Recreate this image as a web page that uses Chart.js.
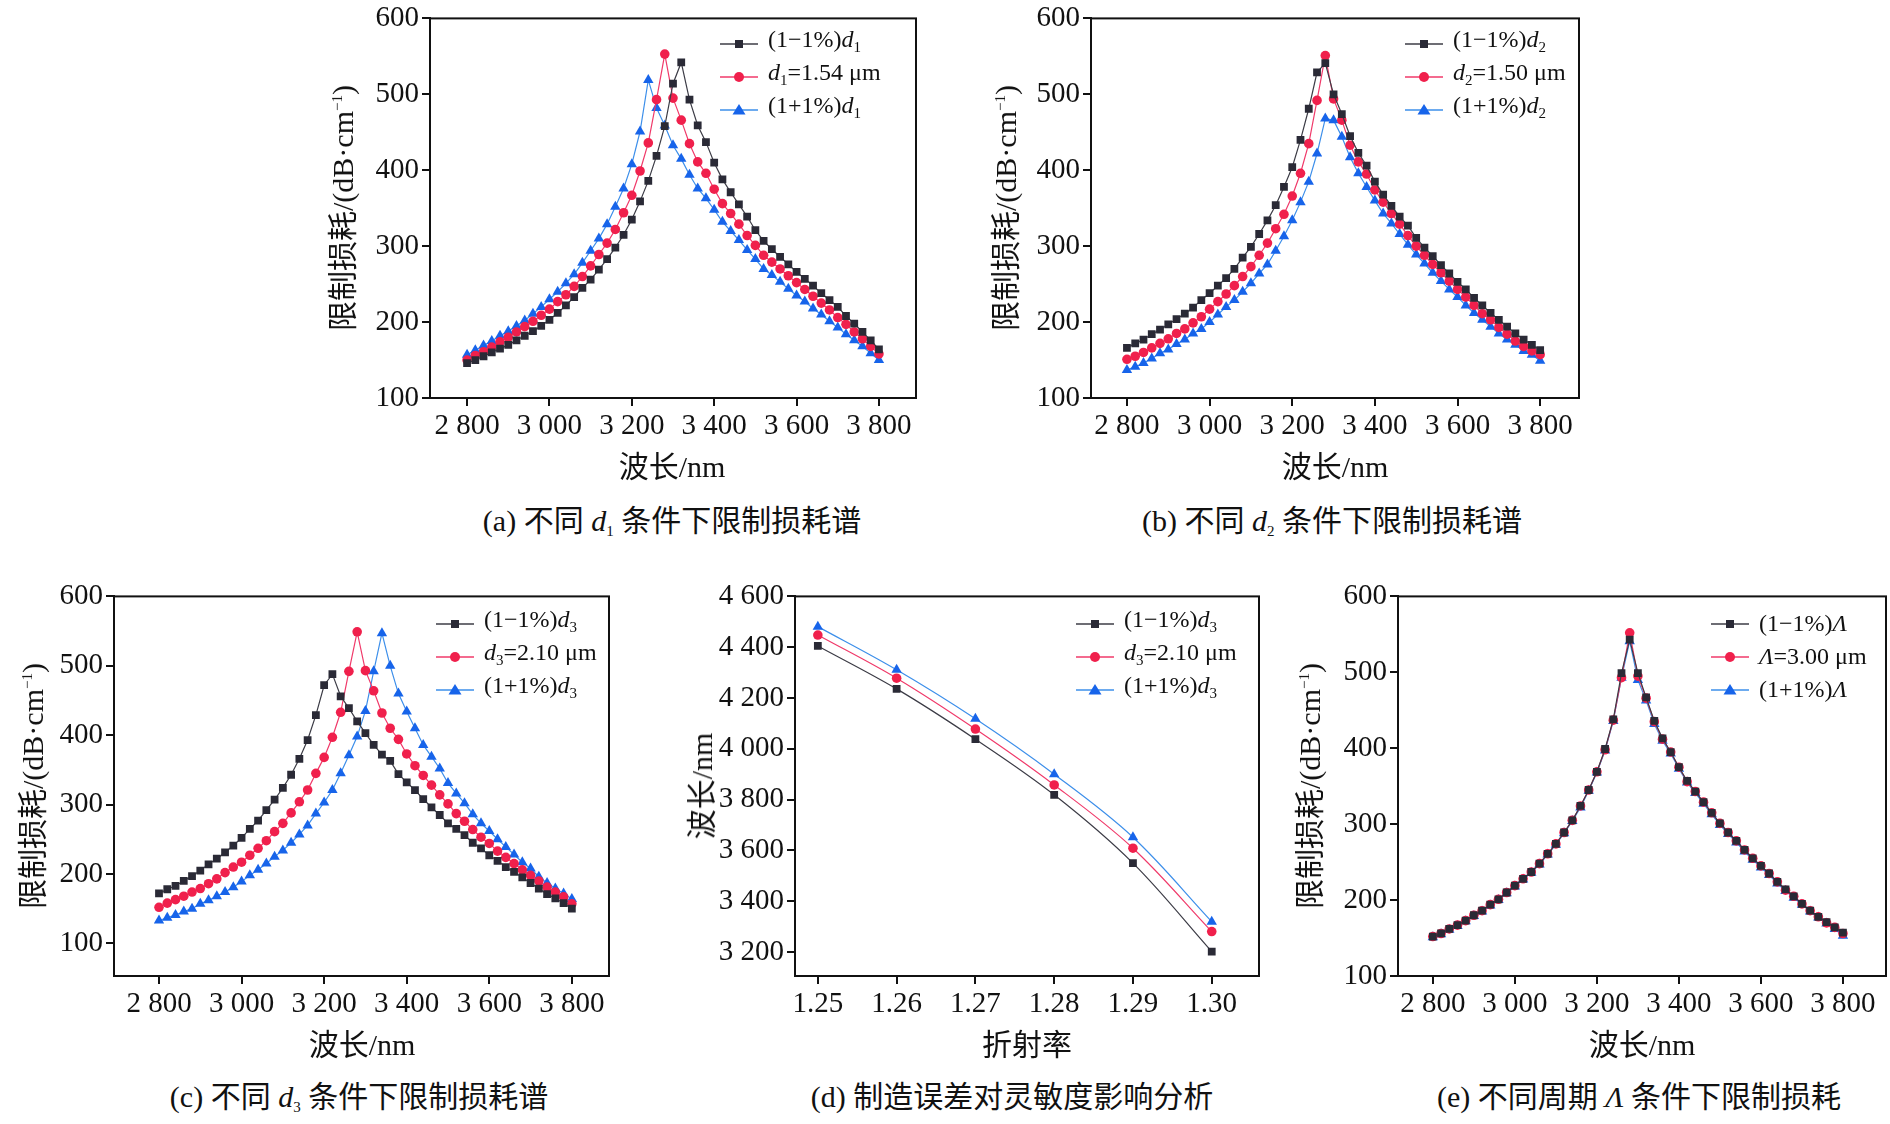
<!DOCTYPE html>
<html>
<head>
<meta charset="utf-8">
<script src="https://cdn.jsdelivr.net/npm/chart.js@4.4.1/dist/chart.umd.min.js"></script>
<style>
body{margin:0;width:1890px;height:1124px;background:#fff;position:relative;overflow:hidden;
  font-family:"Liberation Serif","Noto Sans CJK SC",serif;color:#111}
canvas{position:absolute}
.t{position:absolute;white-space:nowrap;font-size:30px;transform:translate(-50%,-50%)}
.yt{position:absolute;white-space:nowrap;font-size:30px;transform:translate(-50%,-50%) rotate(-90deg)}
.lg{position:absolute;font-size:24px;line-height:33px}
.lg div{display:flex;align-items:center;height:33px}
.lg svg{margin-right:10px}
sub{font-size:15px;vertical-align:-5px}
sup{font-size:15px}
</style>
</head>
<body>
<script>
// wavelength grid (nm)
const wavelength = [2800,2820,2840,2860,2880,2900,2920,2940,2960,2980,3000,3020,3040,3060,3080,3100,3120,3140,3160,3180,3200,
  3220,3240,3260,3280,3300,3320,3340,3360,3380,3400,3420,3440,3460,3480,3500,3520,3540,3560,3580,3600,
  3620,3640,3660,3680,3700,3720,3740,3760,3780,3800];
const wlTicks = [2800,3000,3200,3400,3600,3800];
const lossTicks = [100,200,300,400,500,600];

// (a) d1
const a_minus = [146,150,155,160,165,170,176,182,188,195,203,212,222,233,245,256,269,283,298,315,335,359,386,419,458,514,542,
  493,459,437,410,388,371,355,339,321,307,296,286,276,266,257,248,238,229,220,208,198,187,176,164];
const a_base = [150,156,161,167,174,180,187,194,201,209,217,227,236,247,260,274,289,304,322,344,367,399,436,493,553,
  495,466,435,411,396,375,356,343,329,314,301,288,279,270,261,252,243,234,225,216,206,197,187,178,168,158];
const a_plus = [157,163,169,175,182,188,195,202,211,220,230,240,251,263,278,294,310,329,352,376,408,451,519,
  482,459,433,415,394,376,363,348,332,320,308,295,283,270,262,253,244,235,227,218,210,201,193,184,176,168,159,150];

// (b) d2
const b_minus = [166,172,177,184,190,197,204,211,219,229,238,248,258,270,285,299,316,334,354,378,404,440,481,529,541,
  500,474,445,423,406,385,368,353,339,327,311,298,287,275,264,253,243,232,222,212,203,194,185,177,170,163];
const b_base = [151,155,160,166,172,178,185,191,199,207,217,227,237,248,260,273,288,304,323,342,366,396,435,492,551,
  494,466,433,411,395,374,358,343,329,314,300,288,276,265,254,243,233,222,211,203,193,184,175,168,162,157];
const b_plus = [137,141,146,152,159,164,171,177,185,191,200,210,220,229,240,251,264,276,294,313,334,358,385,422,468,
  466,444,417,396,378,360,343,330,316,302,289,277,265,254,243,233,222,212,203,194,185,177,170,162,157,149];

// (c) d3
const c_minus = [172,178,183,190,197,205,214,222,231,241,252,265,277,292,307,324,343,366,393,429,472,488,
  456,439,420,403,386,372,363,344,332,321,308,296,285,273,265,256,245,237,227,219,210,203,195,187,179,171,165,158,150];
const c_base = [152,158,163,168,174,179,186,193,202,210,217,227,237,248,261,273,288,304,321,345,368,397,433,492,549,
  493,464,432,410,394,373,356,342,328,314,301,287,276,264,253,244,233,224,215,206,198,190,181,174,167,157];
const c_plus = [133,137,141,146,150,157,162,168,174,181,189,198,206,215,225,234,245,257,270,287,303,321,345,371,398,435,492,547,
  500,460,434,410,386,369,352,331,316,302,286,273,262,250,239,228,217,208,196,187,179,172,164];

// (d) sensitivity
const refIndex = [1.25,1.26,1.27,1.28,1.29,1.30];
const d_minus = [4405,4236,4038,3819,3550,3202];
const d_base = [4448,4278,4078,3858,3609,3281];
const d_plus = [4481,4311,4118,3900,3652,3320];
const dTicks = [3200,3400,3600,3800,4000,4200,4400,4600];

// (e) period
const e_minus = [152,156,162,167,173,180,186,194,201,210,219,228,237,248,261,274,289,305,324,345,369,399,438,499,543,
  499,467,436,413,395,375,357,343,329,315,301,289,278,266,255,245,235,224,214,205,195,186,178,171,164,157];
const e_base = [152,156,162,167,173,180,186,194,201,210,219,228,237,248,261,274,289,305,324,345,369,398,437,493,552,
  495,466,435,412,395,375,356,343,329,315,301,289,278,266,255,245,235,224,213,205,195,186,178,170,164,156];
const e_plus = [151,155,161,166,172,179,185,193,200,209,218,227,236,247,260,273,288,304,322,344,368,397,436,493,541,
  490,463,432,410,393,373,355,341,327,313,299,287,276,264,253,243,233,222,212,203,194,185,177,169,162,153];

const C = {
  k:{line:'#3c3c46', pt:'#2a2a36', style:'rect', r:5.5},
  r:{line:'#f03a6a', pt:'#f0204c', style:'circle', r:4.8},
  b:{line:'#3d8fea', pt:'#1764ea', style:'triangle', r:6}
};

function ds(vals, key, xs, tension){
  const s = C[key];
  return {data: vals.map((v,i)=>({x:xs[i], y:v})), borderColor:s.line, borderWidth:1.2,
    pointStyle:s.style, pointRadius:s.r, pointBackgroundColor:s.pt, pointBorderColor:s.pt, pointBorderWidth:0,
    tension:tension||0};
}

const frame = {id:'frame', afterDraw(ch){
  const a = ch.chartArea, c = ch.ctx;
  c.save(); c.strokeStyle='#111'; c.lineWidth=2; c.strokeRect(a.left,a.top,a.right-a.left,a.bottom-a.top); c.restore();
}};

function spaced(v){ return String(v).replace(/\B(?=(\d{3})+(?!\d))/g,' '); }

function panel(L,R,T,B,datasets,x,y){
  const cv = document.createElement('canvas');
  const left = L-100, top = T-20, w = R-L+112, h = B-T+70;
  cv.width = w; cv.height = h; cv.style.left = left+'px'; cv.style.top = top+'px';
  document.body.appendChild(cv);
  const font = {family:'"Liberation Serif", serif', size:29};
  const axis = (o, pos) => ({
    type:'linear', position:pos, min:o.min, max:o.max,
    afterBuildTicks:s=>{ s.ticks = o.ticks.map(v=>({value:v})); },
    afterFit:s=>{ if(pos==='left') s.width=100; else s.height=50; },
    grid:{display:true, drawOnChartArea:false, drawTicks:true, tickLength:8, color:'#111', lineWidth:2},
    border:{display:true, color:'#111', width:2},
    ticks:{color:'#111', font, padding:3, maxRotation:0, autoSkip:false, callback:o.fmt}
  });
  new Chart(cv,{type:'line', data:{datasets},
    options:{responsive:false, animation:false, devicePixelRatio:1,
      layout:{padding:{left:0, top:20, right:12, bottom:0}},
      plugins:{legend:{display:false}, tooltip:{enabled:false}},
      scales:{x:axis(x,'bottom'), y:axis(y,'left')}},
    plugins:[frame]});
}

const wlFmt = v=>spaced(v);
const lossAxis = {min:100, max:600, ticks:lossTicks, fmt:v=>v};

panel(430,916,18,398,[ds(a_minus,'k',wavelength),ds(a_base,'r',wavelength),ds(a_plus,'b',wavelength)],
  {min:2710,max:3890,ticks:wlTicks,fmt:wlFmt}, lossAxis);
panel(1091,1579,18,398,[ds(b_minus,'k',wavelength),ds(b_base,'r',wavelength),ds(b_plus,'b',wavelength)],
  {min:2713,max:3894,ticks:wlTicks,fmt:wlFmt}, lossAxis);
panel(114,609,596,976,[ds(c_minus,'k',wavelength),ds(c_base,'r',wavelength),ds(c_plus,'b',wavelength)],
  {min:2691,max:3890,ticks:wlTicks,fmt:wlFmt}, {min:53,max:600,ticks:lossTicks,fmt:v=>v});
panel(795,1259,596,976,[ds(d_minus,'k',refIndex,0.35),ds(d_base,'r',refIndex,0.35),ds(d_plus,'b',refIndex,0.35)],
  {min:1.2471,max:1.306,ticks:refIndex,fmt:v=>v.toFixed(2)}, {min:3106,max:4600,ticks:dTicks,fmt:wlFmt});
panel(1398,1886,596,976,[ds(e_minus,'k',wavelength),ds(e_base,'r',wavelength),ds(e_plus,'b',wavelength)],
  {min:2715,max:3905,ticks:wlTicks,fmt:wlFmt}, lossAxis);

// text: axis titles, captions, legends
const yLoss = '限制损耗/(dB·cm<sup>−1</sup>)';
const texts = [
  ['yt',340,208,yLoss],['t',672,464,'波长/nm'],['t',672,518,'(a) 不同 <i>d</i><sub>1</sub> 条件下限制损耗谱'],
  ['yt',1003,208,yLoss],['t',1335,464,'波长/nm'],['t',1332,518,'(b) 不同 <i>d</i><sub>2</sub> 条件下限制损耗谱'],
  ['yt',30,786,yLoss],['t',362,1042,'波长/nm'],['t',359,1094,'(c) 不同 <i>d</i><sub>3</sub> 条件下限制损耗谱'],
  ['yt',699,786,'波长/nm'],['t',1027,1042,'折射率'],['t',1012,1094,'(d) 制造误差对灵敏度影响分析'],
  ['yt',1307,786,yLoss],['t',1642,1042,'波长/nm'],['t',1639,1094,'(e) 不同周期 <i>Λ</i> 条件下限制损耗']
];
texts.forEach(([c,x,y,h])=>{const d=document.createElement('div');d.className=c;d.style.left=x+'px';d.style.top=y+'px';d.innerHTML=h;document.body.appendChild(d);});

function marker(key){
  const s=C[key];
  let m;
  if(s.style==='rect') m=`<rect x="15" y="6" width="8" height="8" fill="${s.pt}"/>`;
  else if(s.style==='circle') m=`<circle cx="19" cy="10" r="5" fill="${s.pt}"/>`;
  else m=`<polygon points="19,4 25.5,14.5 12.5,14.5" fill="${s.pt}"/>`;
  return `<svg width="38" height="20"><line x1="0" y1="10" x2="38" y2="10" stroke="${s.line}" stroke-width="1.3"/>${m}</svg>`;
}
function legend(x,y,labels){
  const d=document.createElement('div'); d.className='lg'; d.style.left=x+'px'; d.style.top=y+'px';
  d.innerHTML=['k','r','b'].map((k,i)=>`<div>${marker(k)}<span>${labels[i]}</span></div>`).join('');
  document.body.appendChild(d);
}
const dl = n=>[`(1−1%)<i>d</i><sub>${n}</sub>`, `<i>d</i><sub>${n}</sub>=`, `(1+1%)<i>d</i><sub>${n}</sub>`];
let la=dl(1); la[1]+='1.54 μm'; legend(720,27,la);
let lb=dl(2); lb[1]+='1.50 μm'; legend(1405,27,lb);
let lc=dl(3); lc[1]+='2.10 μm'; legend(436,607,lc);
let ld=dl(3); ld[1]+='2.10 μm'; legend(1076,607,ld);
legend(1711,607,['(1−1%)<i>Λ</i>','<i>Λ</i>=3.00 μm','(1+1%)<i>Λ</i>']);
</script>
</body>
</html>
